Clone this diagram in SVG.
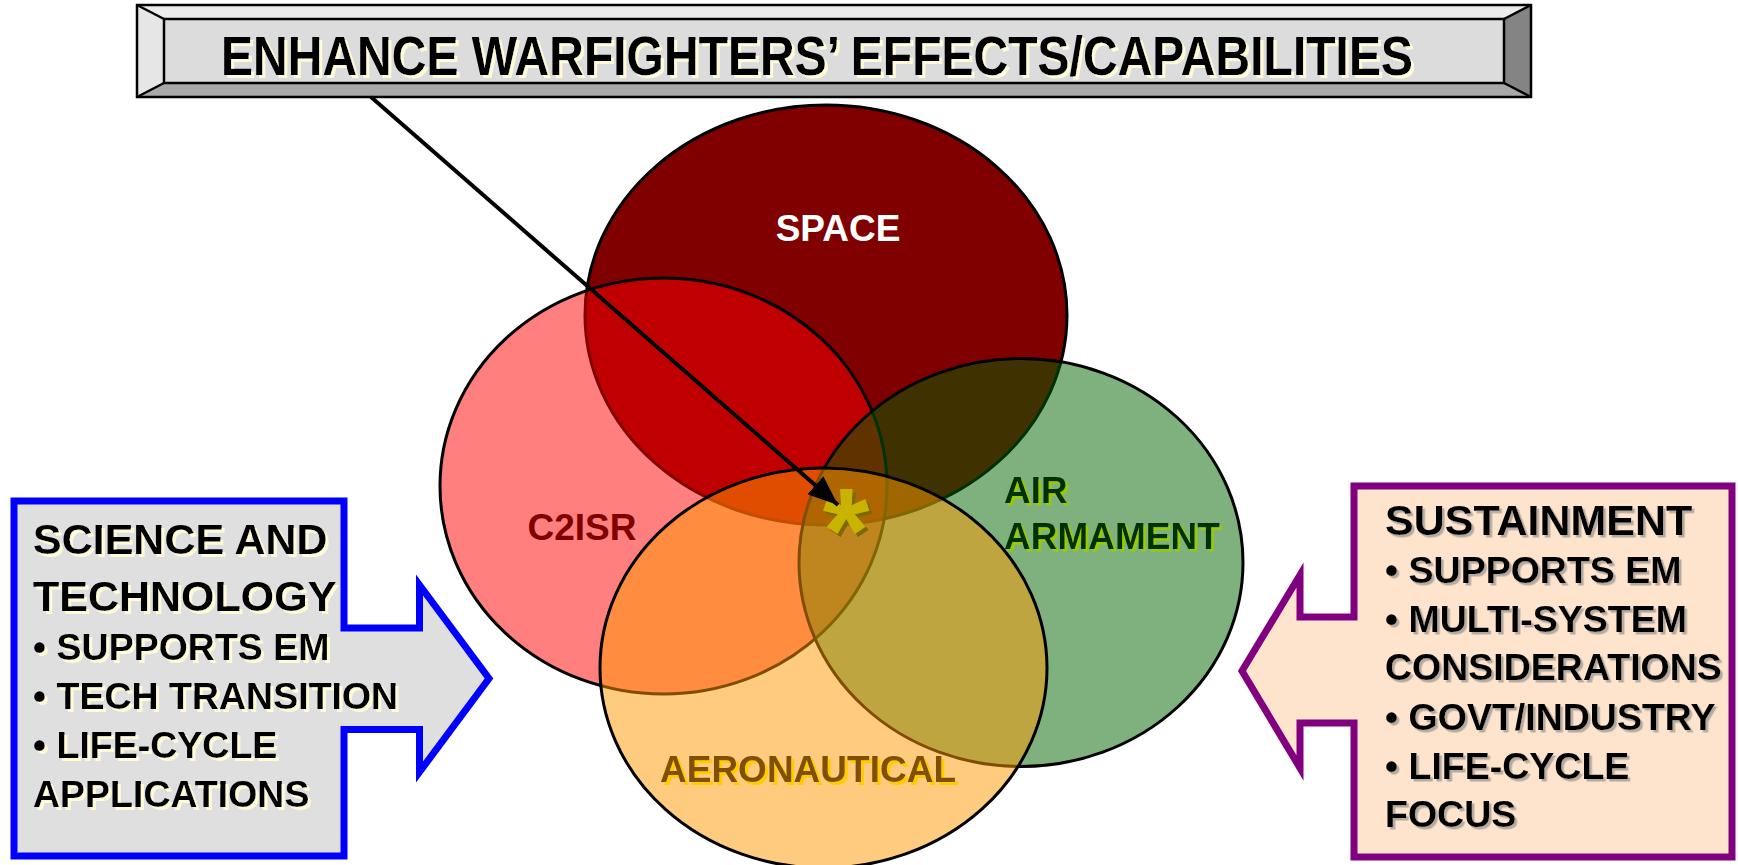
<svg xmlns="http://www.w3.org/2000/svg" width="1738" height="865" viewBox="0 0 1738 865">
<defs>
<style>
text{font-family:"Liberation Sans",Arial,sans-serif;font-weight:bold}
.big{font-size:43px;fill:#000}
.item{font-size:37.5px;fill:#000}
.lbl{font-size:37px}
</style>
<filter id="shCream" x="-5%" y="-20%" width="110%" height="150%"><feDropShadow dx="3" dy="3" stdDeviation="0.3" flood-color="#fffbd8" flood-opacity="1"/></filter>
<filter id="shGray" x="-5%" y="-20%" width="110%" height="150%"><feDropShadow dx="2.5" dy="2.5" stdDeviation="0.3" flood-color="#b4aaa0" flood-opacity="1"/></filter>
<filter id="shGreen" x="-5%" y="-20%" width="110%" height="150%"><feDropShadow dx="2.5" dy="2.5" stdDeviation="0.3" flood-color="#99cc00" flood-opacity="1"/></filter>
<filter id="shYellow" x="-5%" y="-20%" width="110%" height="150%"><feDropShadow dx="3" dy="3" stdDeviation="0.3" flood-color="#ffcc00" flood-opacity="1"/></filter>
<filter id="shOlive" x="-20%" y="-20%" width="150%" height="150%"><feDropShadow dx="3" dy="3" stdDeviation="0.3" flood-color="#7a6800" flood-opacity="1"/></filter>
<marker id="ah" markerUnits="userSpaceOnUse" markerWidth="30" markerHeight="24" viewBox="0 0 30 24" refX="30" refY="12" orient="auto"><path d="M0,0 L30,12 L0,24 Z" fill="#000"/></marker>
</defs>

<g id="title">
<rect x="137" y="5" width="1394" height="92" fill="#dcdcdc"/>
<polygon points="137,5 1531,5 1504,19 164,19" fill="#ebebeb"/>
<polygon points="137,5 164,19 164,83 137,97" fill="#e6e6e6"/>
<polygon points="1531,5 1531,97 1504,83 1504,19" fill="#848484"/>
<polygon points="137,97 164,83 1504,83 1531,97" fill="#a8a8a8"/>
<rect x="164" y="19" width="1340" height="64" fill="#dcdcdc" stroke="#000" stroke-width="2.5"/>
<rect x="137" y="5" width="1394" height="92" fill="none" stroke="#000" stroke-width="2.5"/>
<path d="M137,5 L164,19 M1531,5 L1504,19 M137,97 L164,83 M1531,97 L1504,83" stroke="#000" stroke-width="2.5" fill="none"/>
<text x="817" y="75" font-size="55" text-anchor="middle" textLength="1192" lengthAdjust="spacingAndGlyphs" filter="url(#shCream)" fill="#000">ENHANCE WARFIGHTERS’ EFFECTS/CAPABILITIES</text>
</g>

<g id="space">
<ellipse cx="826" cy="315" rx="241" ry="210" fill="#800000" stroke="#000" stroke-width="3"/>
<text class="lbl" x="838" y="241" text-anchor="middle" fill="#fff">SPACE</text>
</g>
<g id="c2isr">
<ellipse cx="663.5" cy="486" rx="223.5" ry="208" fill="#ff0000" fill-opacity="0.5" stroke="#000" stroke-width="3"/>
</g>
<g id="air-armament">
<ellipse cx="1021" cy="562.5" rx="222" ry="204" fill="#006400" fill-opacity="0.5" stroke="#000" stroke-width="3"/>
</g>
<g id="aeronautical">
<ellipse cx="823.5" cy="668" rx="223.5" ry="200" fill="#ff9900" fill-opacity="0.5" stroke="#000" stroke-width="3"/>
</g>
<g id="labels">
<text class="lbl" x="582" y="540" text-anchor="middle" fill="#800000">C2ISR</text>
<text class="lbl" x="1004" y="503" fill="#003300" filter="url(#shGreen)">AIR</text>
<text class="lbl" x="1004" y="549" fill="#003300" filter="url(#shGreen)">ARMAMENT</text>
<text class="lbl" x="808" y="782" text-anchor="middle" fill="#805000" filter="url(#shYellow)">AERONAUTICAL</text>
<text x="846" y="572" font-size="120" text-anchor="middle" fill="#c8b400" filter="url(#shOlive)">*</text>
</g>

<g id="connectors">
<line x1="371" y1="97" x2="838" y2="505" stroke="#000" stroke-width="4" marker-end="url(#ah)"/>
</g>

<g id="science-technology">
<path d="M14,501 H344 V628 H419.5 V585 L489,678.5 L419.5,772 V729.5 H344 V856 H14 Z" fill="#dfdfdf" stroke="#0000ff" stroke-width="7"/>
<g filter="url(#shCream)">
<text class="big" x="33" y="554">SCIENCE AND</text>
<text class="big" x="33" y="611">TECHNOLOGY</text>
<text class="item" x="33" y="660">• SUPPORTS EM</text>
<text class="item" x="33" y="709">• TECH TRANSITION</text>
<text class="item" x="33" y="758">• LIFE-CYCLE</text>
<text class="item" x="33" y="807">APPLICATIONS</text>
</g>
</g>

<g id="sustainment">
<path d="M1354,486 H1732 V857 H1354 V723 H1300 V768 L1242,671 L1300,575 V617 H1354 Z" fill="#fee4cc" stroke="#800080" stroke-width="7"/>
<g filter="url(#shGray)">
<text class="big" x="1385" y="535">SUSTAINMENT</text>
<text class="item" x="1385" y="583">• SUPPORTS EM</text>
<text class="item" x="1385" y="632">• MULTI-SYSTEM</text>
<text class="item" x="1385" y="680">CONSIDERATIONS</text>
<text class="item" x="1385" y="730">• GOVT/INDUSTRY</text>
<text class="item" x="1385" y="779">• LIFE-CYCLE</text>
<text class="item" x="1385" y="827">FOCUS</text>
</g>
</g>
</svg>
